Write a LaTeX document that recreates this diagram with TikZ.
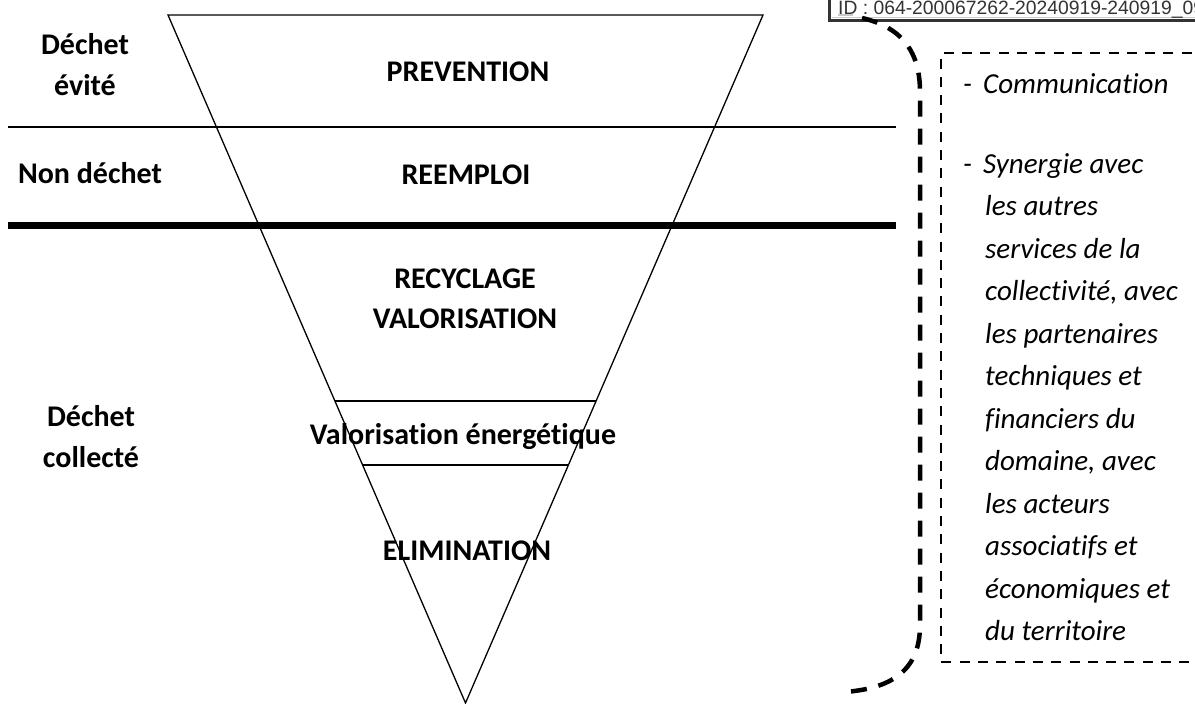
\documentclass[tikz,border=0pt]{standalone}
\usepackage{fontspec}
\setmainfont[Ligatures=NoCommon]{Carlito}
\newfontfamily\idfont{Liberation Sans}
\usetikzlibrary{calc}
\definecolor{idgray}{HTML}{333333}
\definecolor{idlight}{HTML}{C8C8C8}
\begin{document}
\begin{tikzpicture}[x=1pt,y=-1pt,
  lab/.style={font=\fontsize{30}{36}\selectfont\bfseries, anchor=base, inner sep=0pt},
  itx/.style={font=\fontsize{29}{35}\selectfont\itshape, anchor=base west, inner sep=0pt},
  rulethin/.style={line width=1.3pt},
  rulethick/.style={line width=7pt},
  boxdash/.style={line width=2pt, dash pattern=on 10pt off 8.3pt},
  bracedash/.style={line width=4.5pt, dash pattern=on 16pt off 12pt}]
\useasboundingbox (0,0) rectangle (1195,704);
\fill[white] (0,0) rectangle (1195,704);

% triangle
\coordinate (tl) at (168,15);
\coordinate (tr) at (763,15);
\coordinate (ap) at (465.5,703);
\draw[rulethin, line join=miter] (tl) -- (tr) -- (ap) -- cycle;

% horizontal rules
\coordinate (h1a) at (8,127);   \coordinate (h1b) at (896,127);
\coordinate (h2a) at (8,225);   \coordinate (h2b) at (896,225);
\draw[rulethin] (h1a) -- (h1b);
\draw[rulethick] (h2a) -- (h2b);

% inner lines of the triangle
\coordinate (i1a) at ($(tl)!0.561!(ap)$); \coordinate (i1b) at ($(tr)!0.561!(ap)$);
\coordinate (i2a) at ($(tl)!0.654!(ap)$); \coordinate (i2b) at ($(tr)!0.654!(ap)$);
\draw[rulethin] (i1a) -- (i1b);
\draw[rulethin] (i2a) -- (i2b);

% left labels
\node[lab] (d1) at (85,54) {Déchet};
\node[lab] (d2) at (85,95) {évité};
\node[lab] (nd) at (90,183) {Non déchet};
\node[lab] (d3) at (91,426) {Déchet};
\node[lab] (d4) at (91,467) {collecté};

% triangle labels
\node[lab] (prev) at (468,81) {PREVENTION};
\node[lab] (reem) at (466,184) {REEMPLOI};
\node[lab] (recy) at (465,288) {RECYCLAGE};
\node[lab] (valo) at (465,328) {VALORISATION};
\node[lab] (vene) at (463,444) {Valorisation énergétique};
\node[lab] (elim) at (467,560) {ELIMINATION};

% ID stamp
\draw[idgray, line width=3pt] (1210,-10) -- (829.5,-10) -- (829.5,20.5) -- (1210,20.5);
\draw[idlight, line width=0.8pt] (832,17.5) -- (1210,17.5);
\draw[idlight, line width=2.5pt] (838,14.8) -- (853,14.8);
\node[font=\idfont\fontsize{19.3}{22}\selectfont, text=idgray, anchor=base west, inner sep=0pt] (idt) at (838,15) {ID : 064-200067262-20240919-240919\_09};

% brace
\coordinate (b0) at (862,18);
\coordinate (b1) at (920,92);
\coordinate (b2) at (920,625);
\coordinate (b3) at (845,692);
\draw[bracedash] (b0) .. controls (905,28) and (920,55) .. (b1) -- (b2) .. controls (920,668) and (895,688) .. (b3);

% dashed box
\coordinate (x0) at (1210,53);
\coordinate (x1) at (941,53);
\coordinate (x2) at (941,662);
\coordinate (x3) at (1210,662);
\draw[boxdash] (x0) -- (x1) -- (x2) -- (x3);

% right text
\node[itx] (m1) at (963,93) {-};
\node[itx] (t1) at (983,93) {Communication};
\node[itx] (m2) at (963,173) {-};
\node[itx] (t2) at (983,173) {Synergie avec};
\node[itx] (t3) at (985,215.5) {les autres};
\node[itx] (t4) at (985,258) {services de la};
\node[itx] (t5) at (985,300.5) {collectivité, avec};
\node[itx] (t6) at (985,343) {les partenaires};
\node[itx] (t7) at (985,385.5) {techniques et};
\node[itx] (t8) at (985,428) {financiers du};
\node[itx] (t9) at (985,470.5) {domaine, avec};
\node[itx] (t10) at (985,513) {les acteurs};
\node[itx] (t11) at (985,555.5) {associatifs et};
\node[itx] (t12) at (985,598) {économiques et};
\node[itx] (t13) at (985,640.5) {du territoire};
\end{tikzpicture}
\end{document}
